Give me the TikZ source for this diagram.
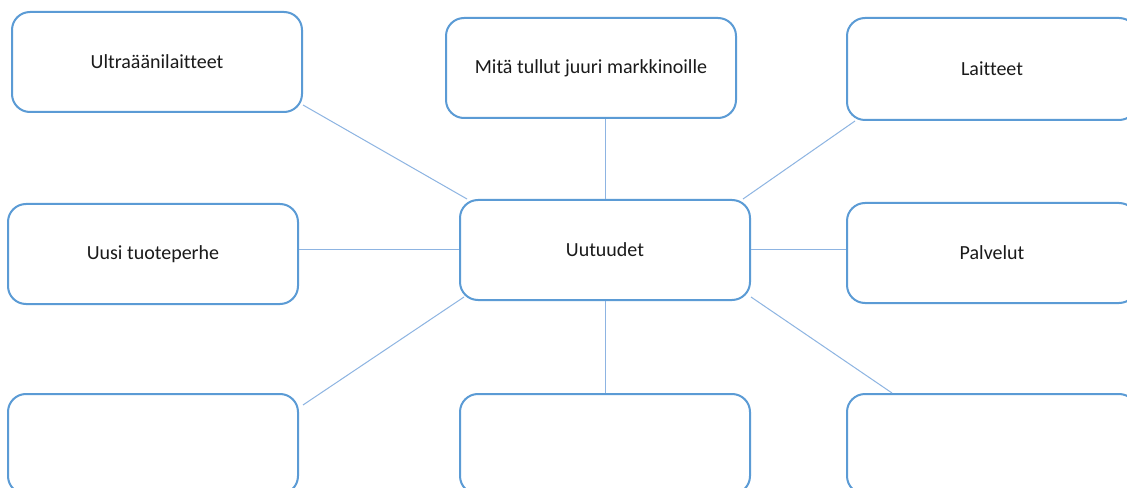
\documentclass[tikz,border=0pt]{standalone}
\usepackage{fontspec}
\setmainfont{Carlito}[Ligatures=CommonOff]
\usetikzlibrary{calc}
\definecolor{boxblue}{HTML}{5B9BD5}
\definecolor{linkblue}{HTML}{8DB4E2}
\definecolor{txt}{HTML}{1A1A1A}
\newcommand{\lowered}[1]{\raisebox{-1.5pt}{#1}}
\begin{document}
\begin{tikzpicture}[x=0.75pt,y=-0.75pt,
  topic/.style={draw=boxblue,line width=1.5pt,rounded corners=13.5pt,fill=white,
    minimum width=217.5pt,minimum height=75pt,inner sep=0pt,
    text=txt,font=\fontsize{15}{18}\selectfont},
  link/.style={draw=linkblue,line width=0.75pt}]
\useasboundingbox (0,0) rectangle (1127,488);
\fill[white] (0,0) rectangle (1127,488);
\node[topic] (ultra) at (157,62) {\lowered{Ultraäänilaitteet}};
\node[topic] (mita) at (591,68) {\lowered{Mitä tullut juuri markkinoille}};
\node[topic,minimum height=76.5pt] (lait) at (992,69) {\lowered{Laitteet}};
\node[topic] (uusi) at (153,254) {\lowered{Uusi tuoteperhe}};
\node[topic] (uut) at (605,250) {\lowered{Uutuudet}};
\node[topic] (palv) at (992,253) {\lowered{Palvelut}};
\node[topic] (b1) at (153,444) {};
\node[topic] (b2) at (605,444) {};
\node[topic] (b3) at (992,444) {};
\draw[link] ($(ultra.south east)+(0,-8)$) -- ($(uut.north west)+(8,0)$);
\draw[link] (uut.north) -- (uut.north |- mita.south);
\draw[link] ($(lait.south west)+(9,0)$) -- ($(uut.north east)+(-8,0)$);
\draw[link] (uut.west) -- (uut.west -| uusi.east);
\draw[link] (uut.east) -- (uut.east -| palv.west);
\draw[link] ($(uut.south west)+(5,-4)$) -- ($(b1.north east)+(4,12)$);
\draw[link] (uut.south) -- (b2.north);
\draw[link] ($(uut.south east)+(0,-4)$) -- ($(b3.north west)+(46,0)$);
\end{tikzpicture}
\end{document}
